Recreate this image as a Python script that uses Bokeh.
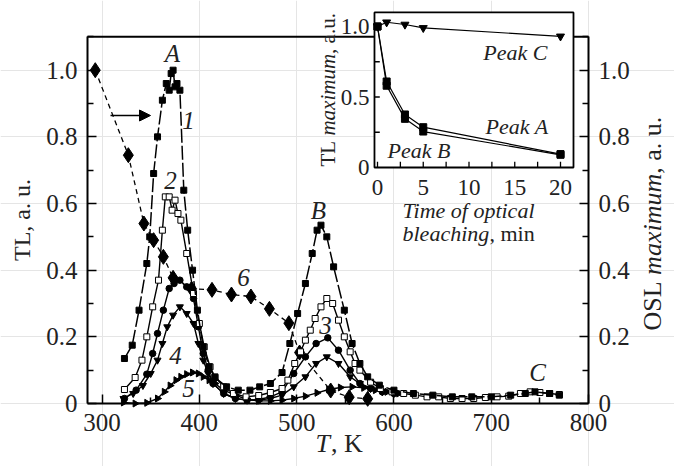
import numpy as np
from bokeh.plotting import figure
from bokeh.models import Range1d, LinearAxis, FixedTicker, Label, Arrow, NormalHead
from bokeh.embed import file_html
from bokeh.resources import INLINE
from bokeh.core.properties import value

# ---------------- data ----------------
# curve 1 (filled squares)
t1 = [323, 331, 338, 346, 349, 353, 357, 362, 366, 369, 371, 373, 375, 377, 380, 384, 388, 393, 398,
      404, 410, 416, 428, 440, 452, 462, 473, 485, 493, 501, 509, 516, 521, 525, 531, 538, 549, 557,
      565, 573, 585, 600, 620, 640, 660, 680, 700, 720, 735, 745, 760, 770]
y1 = [0.135, 0.175, 0.28, 0.42, 0.50, 0.69, 0.80, 0.91, 0.96, 0.94, 0.99, 1.00, 0.95, 0.96, 0.94, 0.64,
      0.52, 0.40, 0.28, 0.17, 0.11, 0.078, 0.05, 0.04, 0.04, 0.05, 0.06, 0.093, 0.18, 0.27, 0.36, 0.45,
      0.52, 0.535, 0.50, 0.41, 0.28, 0.18, 0.12, 0.08, 0.055, 0.04, 0.03, 0.025, 0.02, 0.02, 0.02, 0.025,
      0.03, 0.035, 0.03, 0.025]
# curve 2 (open squares)
t2 = [323, 334, 341, 346, 352, 358, 362, 365, 369, 372, 375, 378, 381, 387, 394, 400, 405, 411, 416,
      425, 435, 448, 461, 473, 485, 491, 498, 504, 509, 514, 519, 525, 531, 537, 543, 549, 555, 560,
      565, 576, 586, 598, 610, 622, 634, 646, 658, 670, 682, 694, 706, 718, 730, 740, 750, 760, 770]
y2 = [0.042, 0.078, 0.13, 0.20, 0.29, 0.37, 0.52, 0.62, 0.62, 0.58, 0.61, 0.57, 0.55, 0.45, 0.33, 0.24,
      0.17, 0.11, 0.08, 0.05, 0.03, 0.02, 0.024, 0.033, 0.045, 0.07, 0.12, 0.155, 0.19, 0.22, 0.255,
      0.29, 0.315, 0.30, 0.25, 0.20, 0.155, 0.12, 0.10, 0.064, 0.045, 0.035, 0.03, 0.025, 0.02, 0.02,
      0.015, 0.015, 0.015, 0.018, 0.02, 0.022, 0.03, 0.035, 0.033, 0.03, 0.027]
# curve 3 (filled circles)
t3 = [323, 335, 346, 352, 357, 363, 369, 374, 380, 387, 394, 399, 404, 409, 414, 425, 437, 449, 461,
      473, 485, 497, 509, 520, 532, 543, 555, 565, 576, 588, 600]
y3 = [0.015, 0.04, 0.088, 0.15, 0.21, 0.28, 0.345, 0.36, 0.37, 0.35, 0.315, 0.23, 0.15, 0.10, 0.06,
      0.03, 0.015, 0.01, 0.012, 0.02, 0.035, 0.09, 0.14, 0.18, 0.197, 0.16, 0.10, 0.06, 0.045, 0.035, 0.03]
# curve 4 (down triangles)
t4 = [322, 332, 342, 350, 357, 362, 367, 373, 380, 387, 394, 399, 404, 409, 414, 425, 437, 449, 461,
      473, 485, 497, 509, 520, 531, 543, 555, 565, 576, 588, 600]
y4 = [0.015, 0.03, 0.054, 0.09, 0.13, 0.18, 0.23, 0.265, 0.29, 0.27, 0.24, 0.18, 0.13, 0.09, 0.06,
      0.03, 0.015, 0.01, 0.01, 0.015, 0.025, 0.05, 0.08, 0.12, 0.14, 0.12, 0.08, 0.06, 0.045, 0.035, 0.03]
# curve 5 (right triangles)
t5 = [322, 334, 346, 357, 364, 370, 376, 381, 387, 393, 399, 404, 410, 416, 425, 437, 449, 461, 473,
      485, 497, 509, 521, 533, 545, 557, 569, 581, 593, 605]
y5 = [0.003, 0.0, 0.002, 0.015, 0.035, 0.054, 0.07, 0.08, 0.088, 0.093, 0.09, 0.08, 0.07, 0.06, 0.04,
      0.025, 0.012, 0.008, 0.008, 0.01, 0.015, 0.022, 0.032, 0.042, 0.048, 0.05, 0.047, 0.04, 0.035, 0.03]
# curve 6 (OSL maximum, diamonds, right axis)
t6 = [293, 327, 343, 353, 363, 373, 392, 413, 433, 453, 472, 492, 503, 535, 554, 573]
y6 = [1.0, 0.745, 0.54, 0.49, 0.44, 0.377, 0.344, 0.341, 0.327, 0.321, 0.284, 0.241, 0.153, 0.039, 0.019, 0.014]

# inset: TL maximum vs time of optical bleaching
bleach_min = [0, 1, 3, 5, 20]
peak_a = [1.0, 0.61, 0.376, 0.286, 0.095]
peak_b = [1.0, 0.58, 0.345, 0.255, 0.09]
peak_c = [1.0, 1.03, 1.014, 0.99, 0.93]

# ticks
x_ticks = [300, 400, 500, 600, 700, 800]
x_minor = [350, 450, 550, 650, 750]
y_ticks = [0, 0.2, 0.4, 0.6, 0.8, 1.0]
y_tick_labels = ["0", "0.2", "0.4", "0.6", "0.8", "1.0"]
y_minor = [0.1, 0.3, 0.5, 0.7, 0.9, 1.1]
ix_ticks = [0, 5, 10, 15, 20]
ix_minor = [0, 2.5, 5, 7.5, 10, 12.5, 15, 17.5, 20]
iy_ticks = [0, 0.5, 1.0]
iy_tick_labels = ["0", "0.5", "1.0"]
iy_minor = [0.25, 0.5, 0.75, 1.0]

FONT = "Liberation Serif"
TXT = "#222222"
K = "black"
W, H = 674, 466

# ---------------- page geometry helpers (page pixels -> data) ----------------
def xd(px):
    return 284 + (px - 86) * 517 / 503

def yd(py):
    return (403 - py) / 333.3

def ti(px):
    return (px - 377) / 9.15

def vi(py):
    return (167 - py) / 141

p = figure(frame_width=W, frame_height=H, min_border=0,
           x_range=Range1d(xd(0), xd(W)), y_range=Range1d(yd(H), yd(0)),
           x_axis_location=None, y_axis_location=None,
           output_backend="svg", toolbar_location=None)
p.extra_x_ranges = {"ix": Range1d(ti(0), ti(W))}
p.extra_y_ranges = {"iy": Range1d(vi(H), vi(0))}
p.outline_line_color = None
p.background_fill_color = "white"
p.border_fill_color = "white"


def style_axis(ax, standoff):
    ax.axis_line_width = 2
    ax.axis_line_color = K
    ax.major_tick_in = 9
    ax.major_tick_out = 0
    ax.minor_tick_in = 6
    ax.minor_tick_out = 0
    ax.major_tick_line_width = 1.5
    ax.minor_tick_line_width = 1.5
    ax.major_label_text_font = FONT
    ax.major_label_text_font_size = "25px"
    ax.major_label_text_color = TXT
    ax.major_label_standoff = standoff


xa = LinearAxis(ticker=FixedTicker(ticks=x_ticks, minor_ticks=x_minor), fixed_location=0, bounds=(285, 800))
style_axis(xa, 10)
p.add_layout(xa, "below")

ya = LinearAxis(ticker=FixedTicker(ticks=y_ticks, minor_ticks=y_minor), fixed_location=285, bounds=(0, 1.1))
ya.major_label_overrides = dict(zip(y_ticks, y_tick_labels))
style_axis(ya, 10)
ya.axis_label = "TL, a. u."
ya.axis_label_text_font = FONT
ya.axis_label_text_font_size = "24px"
ya.axis_label_text_font_style = "normal"
ya.axis_label_text_color = TXT
ya.axis_label_standoff = 8
p.add_layout(ya, "left")

ra = LinearAxis(ticker=FixedTicker(ticks=y_ticks, minor_ticks=y_minor), fixed_location=800, bounds=(0, 1.1))
ra.major_label_overrides = dict(zip(y_ticks, y_tick_labels))
style_axis(ra, 10)
p.add_layout(ra, "right")

# top frame line
p.segment(x0=[285], y0=[1.1], x1=[800], y1=[1.1], line_color=K, line_width=2)

# ---------------- main curves ----------------
p.line(t6, y6, line_color=K, line_width=1.3, line_dash="5 4")
p.scatter(t6, y6, marker="diamond", size=15, fill_color=K, line_color=K)

p.line(t5, y5, line_color=K, line_width=1.4)
p.scatter(t5, y5, marker="triangle", angle=-np.pi / 2, size=7, fill_color=K, line_color=K)

p.line(t4, y4, line_color=K, line_width=1.4)
p.scatter(t4, y4, marker="inverted_triangle", size=7, fill_color=K, line_color=K)

p.line(t3, y3, line_color=K, line_width=1.4)
p.scatter(t3, y3, marker="circle", size=6.5, fill_color=K, line_color=K)

p.line(t2, y2, line_color=K, line_width=1.4)
p.scatter(t2, y2, marker="square", size=6, fill_color="white", line_color=K, line_width=1)

p.line(t1, y1, line_color=K, line_width=1.5, line_dash="14 3")
p.scatter(t1, y1, marker="square", size=6, fill_color=K, line_color=K)

# arrow from curve 6 to the right axis
p.add_layout(Arrow(end=NormalHead(size=11, fill_color=K, line_color=K), x_start=xd(110), y_start=yd(115),
                   x_end=xd(150), y_end=yd(115), line_width=1.3, line_color=K))

# curve labels
lab_txt = ["A", "1", "2", "4", "5", "6", "B", "3", "C"]
lab_px = [172, 188, 170, 175, 188, 243, 318, 325, 537]
lab_py = [53, 120, 180, 355, 388, 277, 210, 325, 372]
p.text(x=[xd(v) for v in lab_px], y=[yd(v) for v in lab_py], text=lab_txt,
       text_font=value(FONT), text_font_size="25px", text_font_style="italic",
       text_align="center", text_baseline="middle", text_color=TXT)

# ---------------- inset ----------------
R = dict(x_range_name="ix", y_range_name="iy")
p.quad(left=[-0.33], right=[21.42], bottom=[0], top=[1.1], fill_color="white",
       line_color=K, line_width=1.8, **R)
p.segment(x0=ix_minor, y0=[0] * len(ix_minor), x1=ix_minor, y1=[0.04] * len(ix_minor),
          line_color=K, line_width=1.3, **R)
p.segment(x0=[-0.33] * len(iy_minor), y0=iy_minor, x1=[0.25] * len(iy_minor), y1=iy_minor,
          line_color=K, line_width=1.3, **R)
p.text(x=ix_ticks, y=[vi(187)] * len(ix_ticks), text=[str(v) for v in ix_ticks],
       text_font=value(FONT), text_font_size="23px", text_align="center", text_baseline="middle",
       text_color=TXT, **R)
p.text(x=[ti(369)] * len(iy_ticks), y=iy_ticks, text=iy_tick_labels,
       text_font=value(FONT), text_font_size="23px", text_align="right", text_baseline="middle",
       text_color=TXT, **R)

p.line(bleach_min, peak_c, line_color=K, line_width=1.2, **R)
p.scatter(bleach_min, peak_c, marker="inverted_triangle", size=8, fill_color=K, line_color=K, **R)
p.line(bleach_min, peak_a, line_color=K, line_width=1.2, **R)
p.scatter(bleach_min, peak_a, marker="square", size=7, fill_color=K, line_color=K, **R)
p.line(bleach_min, peak_b, line_color=K, line_width=1.2, **R)
p.scatter(bleach_min, peak_b, marker="square", size=7, fill_color=K, line_color=K, **R)

it = dict(text_font=value(FONT), text_font_size="22px", text_baseline="middle", text_color=TXT, **R)
p.text(x=[ti(547), ti(548)], y=[vi(52), vi(126)], text=["Peak C", "Peak A"], text_align="right",
       text_font_style="italic", **it)
p.text(x=[ti(387)], y=[vi(150)], text=["Peak B"], text_align="left", text_font_style="italic", **it)
p.text(x=[ti(468)], y=[vi(210)], text=["Time of optical"], text_align="center", text_font_style="italic", **it)
p.text(x=[ti(402)], y=[vi(233)], text=["bleaching"], text_align="left", text_font_style="italic", **it)
p.text(x=[ti(402 + 87)], y=[vi(233)], text=[", min"], text_align="left", text_font_style="normal", **it)

# inset y label (rotated, mixed styles)
fs_i = 21
w1 = (0.611 + 0.611 + 0.25) * fs_i
w2 = 3.888 * fs_i
for txt, py0, style in [("TL ", 166, "normal"), ("maximum", 166 - w1, "italic"), (", a.u.", 166 - w1 - w2, "normal")]:
    p.add_layout(Label(x=ti(327), y=vi(py0), text=txt, angle=np.pi / 2, text_align="left",
                       text_baseline="middle", text_font=FONT, text_font_size=f"{fs_i}px",
                       text_font_style=style, text_color=TXT, x_range_name="ix", y_range_name="iy"))

# right axis label (rotated, mixed styles)
fs_r = 26
r1 = (0.722 + 0.556 + 0.611 + 0.25) * fs_r
r2 = 3.888 * fs_r
r0 = 330
for txt, py0, style in [("OSL ", r0, "normal"), ("maximum", r0 - r1, "italic"), (", a. u.", r0 - r1 - r2, "normal")]:
    p.add_layout(Label(x=xd(652), y=yd(py0), text=txt, angle=np.pi / 2,
                       text_align="left", text_baseline="middle", text_font=FONT,
                       text_font_size=f"{fs_r}px", text_font_style=style, text_color=TXT))

# x axis label "T, K"
fs_x = 26
p.add_layout(Label(x=xd(315), y=yd(443), text="T", text_align="left",
                   text_baseline="middle", text_font=FONT, text_font_size=f"{fs_x}px",
                   text_font_style="italic", text_color=TXT))
p.add_layout(Label(x=xd(315 + 0.6 * fs_x), y=yd(443), text=", K",
                   text_align="left", text_baseline="middle", text_font=FONT,
                   text_font_size=f"{fs_x}px", text_font_style="normal", text_color=TXT))

open("out.html", "w").write(file_html(p, INLINE))
